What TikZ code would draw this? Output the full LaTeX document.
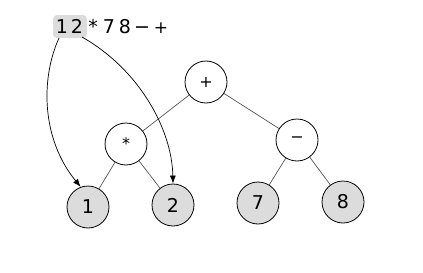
\documentclass[tikz,border=0pt]{standalone}
\usepackage{fontspec}
\setmainfont{DejaVu Sans}
\usetikzlibrary{arrows.meta}
\definecolor{leafgray}{HTML}{DCDCDC}
\definecolor{edgegray}{HTML}{555555}
\begin{document}
\begin{tikzpicture}[x=1pt,y=-1pt,
  opnode/.style={circle,draw=black,line width=0.8pt,minimum size=42pt,inner sep=0pt,font=\fontsize{16}{16}\selectfont},
  leafnode/.style={opnode,fill=leafgray,font=\fontsize{19}{19}\selectfont},
  tok/.style={inner sep=0pt,anchor=base,font=\fontsize{19}{19}\selectfont},
  edge/.style={draw=edgegray,line width=0.7pt},
  ptr/.style={draw=black,line width=0.7pt,-{Latex[length=8pt,width=6pt]}}]
\useasboundingbox (0,0) rectangle (423,273);
\fill[leafgray,rounded corners=4pt] (53,15) rectangle (87,38);
\node[tok] (t1) at (62,33) {1};
\node[tok] (t2) at (77,33) {2};
\node[tok] (t3) at (93,33) {*};
\node[tok] (t4) at (109,33) {7};
\node[tok] (t5) at (125,33) {8};
\node[tok] (t6) at (142,33) {−};
\node[tok,font=\fontsize{17}{17}\selectfont] (t7) at (161,33) {+};
\node[opnode] (plus) at (206,82) {+};
\node[opnode] (times) at (126,144) {*};
\node[opnode] (minus) at (297,140) {−};
\node[leafnode] (l1) at (88,207) {1};
\node[leafnode] (l2) at (173,205) {2};
\node[leafnode] (l7) at (258,203) {7};
\node[leafnode] (l8) at (343,202) {8};
\draw[edge] (plus) -- (times);
\draw[edge] (plus) -- (minus);
\draw[edge] (times) -- (l1);
\draw[edge] (times) -- (l2);
\draw[edge] (minus) -- (l7);
\draw[edge] (minus) -- (l8);
\coordinate (s1) at (59,38);
\coordinate (s2) at (82,37);
\draw[ptr] (s1) .. controls (40,80) and (42,140) .. (l1.110);
\draw[ptr] (s2) .. controls (140,70) and (172,130) .. (l2.north);
\end{tikzpicture}
\end{document}
